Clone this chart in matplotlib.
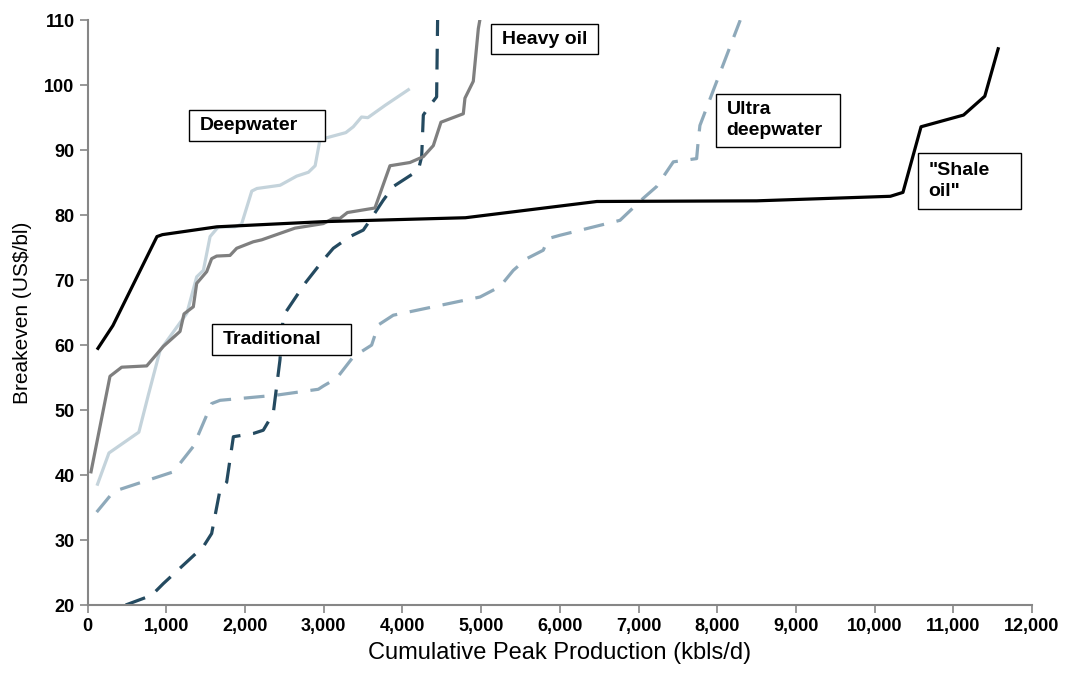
import matplotlib
matplotlib.use("Agg")
import matplotlib.pyplot as plt
from matplotlib.ticker import FuncFormatter, MultipleLocator

plt.rcParams['font.family'] = ['Liberation Sans', 'DejaVu Sans']

# cumulative peak production (kbls/d) and breakeven (US$/bl) per segment
shale_x = [130, 320, 880, 950, 1640, 3000, 4800, 6470, 8500, 10200, 10360, 10590, 11130, 11400, 11570]
shale_y = [59.5, 63.0, 76.7, 77.0, 78.2, 79.0, 79.6, 82.1, 82.2, 82.9, 83.5, 93.6, 95.4, 98.3, 105.6]

deep_x = [125, 270, 650, 770, 920, 1260, 1385, 1470, 1555, 1660, 1870, 1955, 2085, 2150, 2445,
          2655, 2805, 2890, 2950, 3035, 3280, 3375, 3480, 3560, 3780, 4075]
deep_y = [38.6, 43.4, 46.6, 52.3, 59.2, 64.9, 70.5, 71.5, 76.7, 78.2, 78.2, 78.6, 83.7, 84.1, 84.6,
          86.0, 86.6, 87.6, 91.5, 91.9, 92.7, 93.6, 95.1, 95.0, 96.9, 99.3]

heavy_x = [42, 283, 432, 750, 961, 1173, 1224, 1342, 1385, 1512, 1575, 1639, 1808, 1893, 2104, 2211,
           2634, 2994, 3121, 3206, 3300, 3650, 3841, 4095, 4265, 4392, 4489, 4773, 4794, 4900, 4964, 4990]
heavy_y = [40.5, 55.2, 56.6, 56.8, 59.8, 62.1, 64.8, 65.9, 69.5, 71.3, 73.3, 73.7, 73.8, 74.9, 75.9, 76.2,
           78.0, 78.7, 79.5, 79.5, 80.4, 81.1, 87.6, 88.1, 89.0, 90.7, 94.3, 95.6, 98.0, 100.6, 108.7, 110.5]

trad_x = [482, 813, 961, 1470, 1575, 1681, 1766, 1851, 2104, 2231, 2358, 2443, 2485, 2761, 2994,
          3121, 3333, 3502, 3587, 3756, 3883, 4201, 4244, 4265, 4350, 4434, 4447]
trad_y = [20.0, 21.5, 23.3, 29.0, 31.0, 37.7, 38.9, 45.9, 46.4, 46.9, 49.5, 57.7, 64.5, 69.5, 73.1,
          74.9, 76.7, 77.7, 79.2, 82.3, 84.4, 86.9, 89.0, 95.4, 96.9, 98.2, 110.5]

ultra_x = [114, 325, 410, 1089, 1342, 1575, 1681, 2401, 2930, 2994, 3164, 3375, 3608, 3693, 3883,
           4985, 5239, 5408, 5578, 5789, 5853, 6001, 6764, 7060, 7230, 7442, 7738, 7759, 7780, 7950, 8292]
ultra_y = [34.3, 37.4, 37.8, 40.5, 44.4, 51.0, 51.5, 52.3, 53.2, 53.7, 54.9, 58.2, 60.0, 63.1, 64.6,
           67.4, 69.0, 71.5, 73.3, 74.6, 76.4, 76.9, 79.2, 82.6, 84.4, 88.2, 88.7, 91.5, 93.8, 99.2, 110.0]

labels = ['Deepwater', 'Traditional', 'Heavy oil', 'Ultra\ndeepwater', '"Shale\noil"']
label_x = [1290, 1575, 5120, 7980, 10545]
label_y = [96.2, 63.2, 109.4, 98.7, 89.6]
box_w = [1725, 1767, 1360, 1580, 1310]
box_h = [4.8, 4.7, 4.6, 8.2, 8.7]

fig = plt.figure(figsize=(10.67, 6.73), dpi=100)
ax = fig.add_axes([0.0822, 0.101, 0.885, 0.869])

ax.plot(ultra_x, ultra_y, color='#8ea9ba', lw=2.3, dashes=(6.5, 4))
ax.plot(deep_x, deep_y, color='#c4d3db', lw=2.3)
ax.plot(trad_x, trad_y, color='#244a60', lw=2.3, dashes=(6.5, 4))
ax.plot(heavy_x, heavy_y, color='#7f7f7f', lw=2.3)
ax.plot(shale_x, shale_y, color='black', lw=2.3)

for txt, x, y, w, h in zip(labels, label_x, label_y, box_w, box_h):
    ax.add_patch(plt.Rectangle((x, y - h), w, h, fill=True, facecolor='white',
                               edgecolor='black', lw=1.0, zorder=5, clip_on=False))
    ax.text(x + 140, y - h / 2, txt, fontsize=14, fontweight='bold',
            va='center', ha='left', zorder=6, linespacing=1.3)

ax.set_xlim(0, 12000)
ax.set_ylim(20, 110)
ax.xaxis.set_major_locator(MultipleLocator(1000))
ax.yaxis.set_major_locator(MultipleLocator(10))
ax.xaxis.set_major_formatter(FuncFormatter(lambda v, p: f'{int(v):,}'))

for side in ['top', 'right']:
    ax.spines[side].set_visible(False)
for side in ['left', 'bottom']:
    ax.spines[side].set_color('#868686')
    ax.spines[side].set_linewidth(1.5)
ax.tick_params(colors='#868686', width=1.2, length=6, labelcolor='black', labelsize=13)
for lab in ax.get_xticklabels() + ax.get_yticklabels():
    lab.set_fontweight('bold')

ax.set_xlabel('Cumulative Peak Production (kbls/d)', fontsize=17, labelpad=5)
ax.set_ylabel('Breakeven (US$/bl)', fontsize=15, labelpad=9)

fig.savefig('out.png', dpi=100)
